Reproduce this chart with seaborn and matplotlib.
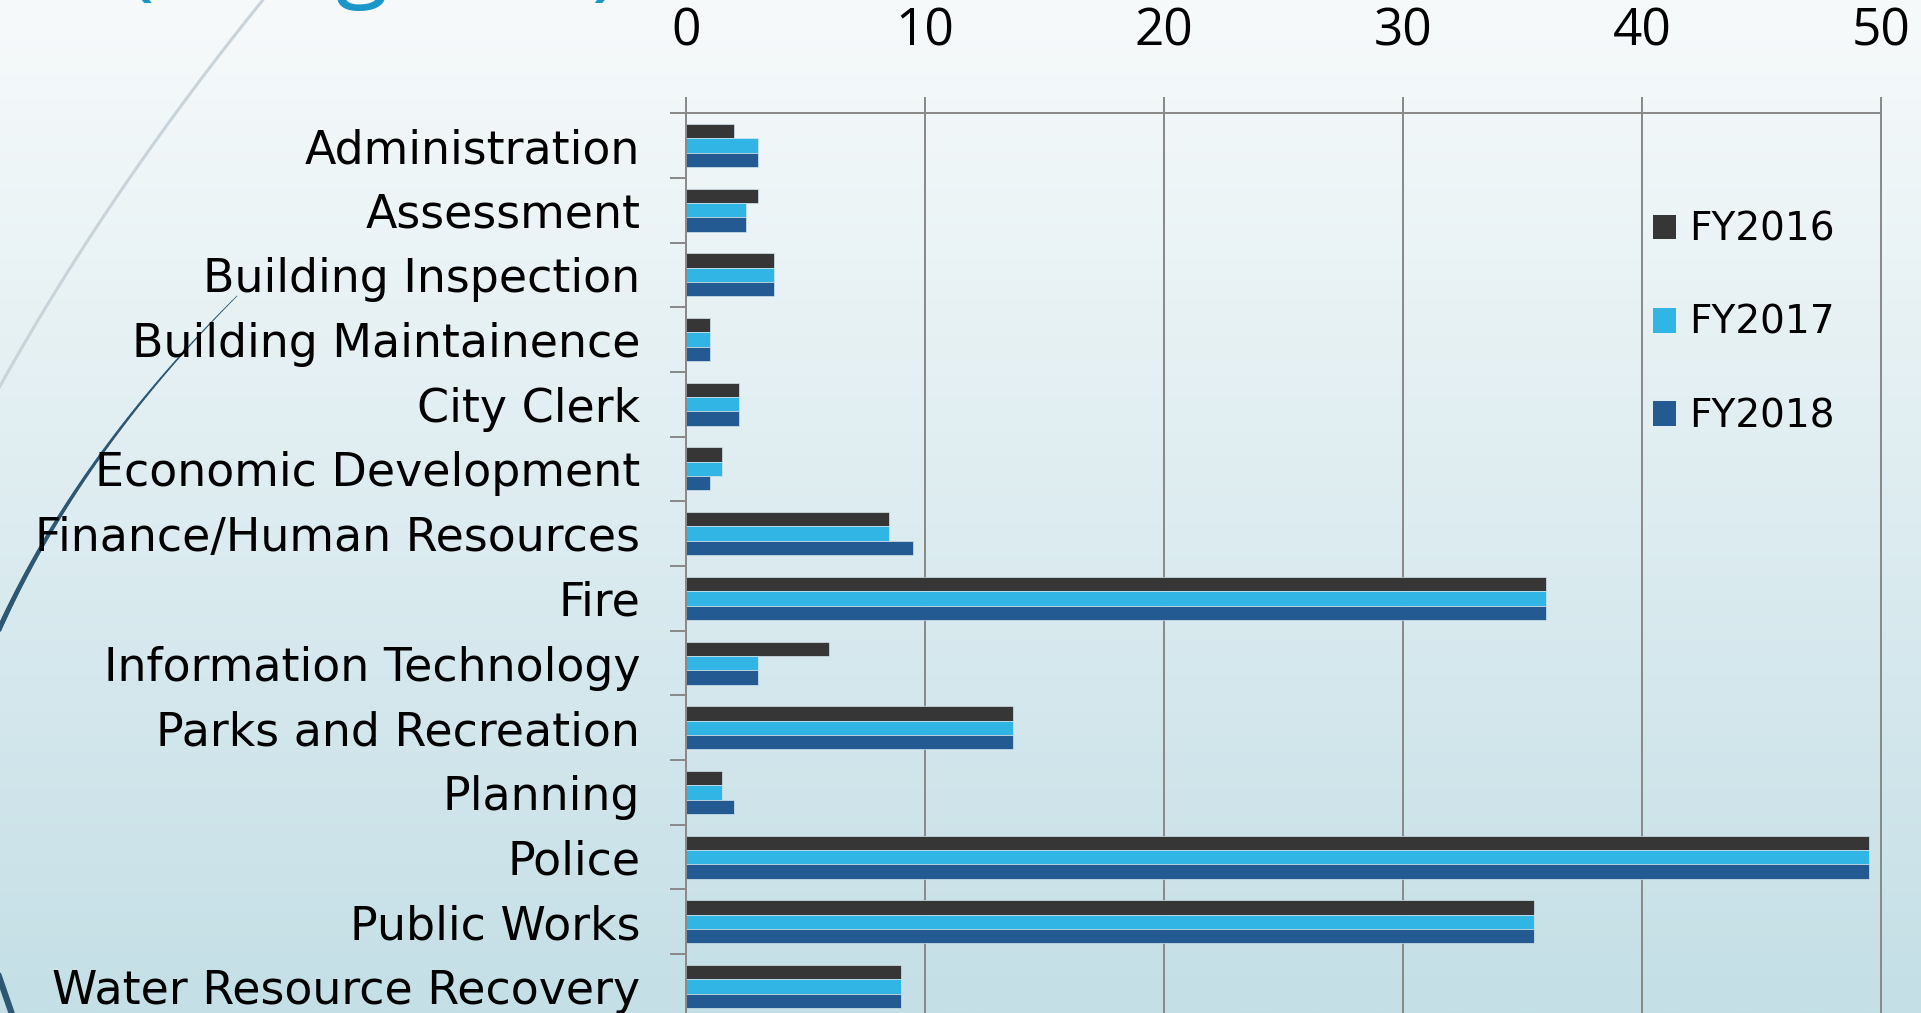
import numpy as np
import pandas as pd
import matplotlib
matplotlib.use("Agg")
import matplotlib.pyplot as plt
from matplotlib.ticker import FixedLocator
from matplotlib.collections import LineCollection
from matplotlib.patches import Patch
import seaborn as sns

# ---------------- data ----------------
departments = [
    "Administration", "Assessment", "Building Inspection", "Building Maintainence",
    "City Clerk", "Economic Development", "Finance/Human Resources", "Fire",
    "Information Technology", "Parks and Recreation", "Planning", "Police",
    "Public Works", "Water Resource Recovery",
]
fy2016 = [2, 3, 3.7, 1, 2.2, 1.5, 8.5, 36, 6, 13.7, 1.5, 49.5, 35.5, 9]
fy2017 = [3, 2.5, 3.7, 1, 2.2, 1.5, 8.5, 36, 3, 13.7, 1.5, 49.5, 35.5, 9]
fy2018 = [3, 2.5, 3.7, 1, 2.2, 1, 9.5, 36, 3, 13.7, 2, 49.5, 35.5, 9]
years = ["FY2016", "FY2017", "FY2018"]
x_ticks = [0, 10, 20, 30, 40, 50]
title_text = "(Budgeted)"

colors = ["#363636", "#31B5E5", "#245A92"]
grid_col = "#8a8a8a"

df = pd.DataFrame({
    "Department": departments * 3,
    "Year": [years[0]] * len(departments) + [years[1]] * len(departments) + [years[2]] * len(departments),
    "FTE": fy2016 + fy2017 + fy2018,
})

W, H = 1921, 1013
fig = plt.figure(figsize=(W / 100, H / 100), dpi=100)

# ---------------- background ----------------
bg = fig.add_axes([0, 0, 1, 1], zorder=-10)
top = np.array([247, 250, 251]) / 255.0
bot = np.array([196, 223, 230]) / 255.0
t = np.linspace(0, 1, 512)[:, None]
grad = (top[None, :] * (1 - t) + bot[None, :] * t)[:, None, :]
bg.imshow(grad, aspect="auto", extent=[0, W, H, 0], interpolation="bilinear")
bg.set_xlim(0, W)
bg.set_ylim(H, 0)
bg.axis("off")


def bezier(p0, p1, p2, n=200):
    s = np.linspace(0, 1, n)[:, None]
    p0, p1, p2 = map(np.array, (p0, p1, p2))
    return (1 - s) ** 2 * p0 + 2 * (1 - s) * s * p1 + s ** 2 * p2

# light arc
pts = bezier((275, -15), (104, 194), (-12, 408))
bg.plot(pts[:, 0], pts[:, 1], color="#c8d3da", lw=2.2, solid_capstyle="butt")
# dark tapered arc
pts = bezier((237, 296), (69.5, 463), (-10, 650))
segs = np.stack([pts[:-1], pts[1:]], axis=1)
lws = np.linspace(0.5, 3.8, len(segs))
bg.add_collection(LineCollection(segs, linewidths=lws, colors="#2d5773", capstyle="round"))
# bottom-left dark piece
bg.plot([-4, 14], [968, 1020], color="#2d5773", lw=4.5)

# title (mostly cut off at top)
fig.text(125 / W, 1 + 12 / H, title_text, color="#1b96c8", fontsize=70,
         ha="left", va="baseline", family="Open Sans")

# ---------------- chart ----------------
ax = fig.add_axes([686 / W, 1 - 1018.7 / H, (1881 - 686) / W, (1018.7 - 113.3) / H])
ax.set_facecolor("none")
sns.barplot(data=df, y="Department", x="FTE", hue="Year", orient="h",
            palette=colors, saturation=1, width=0.665, errorbar=None,
            edgecolor="#d5e5eb", linewidth=0.5, ax=ax)
if ax.get_legend() is not None:
    ax.get_legend().remove()

ax.set_xlim(0, 50)
ax.set_ylim(len(departments) - 0.5, -0.5)
ax.xaxis.tick_top()
ax.set_xlabel("")
ax.set_ylabel("")
ax.set_xticks(x_ticks)
ax.set_xticklabels([str(v) for v in x_ticks])
ax.tick_params(axis="x", which="major", length=11.5, width=1.44, color=grid_col,
               pad=29, labelsize=37, top=True, bottom=False)
for lbl in ax.get_xticklabels():
    lbl.set_fontfamily("Open Sans")

ax.set_yticks(range(len(departments)))
ax.set_yticklabels(departments)
ax.yaxis.set_minor_locator(FixedLocator(np.arange(-0.5, len(departments), 1.0)))
ax.tick_params(axis="y", which="major", length=0, pad=33, labelsize=33)
ax.tick_params(axis="y", which="minor", length=11.5, width=1.44, color=grid_col)
for lbl in ax.get_yticklabels():
    lbl.set_fontfamily("DejaVu Sans")

ax.grid(axis="x", color=grid_col, linewidth=1.44)
ax.grid(axis="y", visible=False)
ax.set_axisbelow(True)
for side in ["left", "top", "right"]:
    ax.spines[side].set_color(grid_col)
    ax.spines[side].set_linewidth(1.44)
ax.spines["bottom"].set_visible(False)

handles = [Patch(facecolor=c, edgecolor="none") for c in colors]
fig.legend(handles, years, loc="center left", bbox_to_anchor=(1653 / W, 1 - 323 / H),
           frameon=False, handlelength=0.59, handleheight=0.59,
           handletextpad=0.35, labelspacing=1.42, borderpad=0, borderaxespad=0,
           prop={"family": "DejaVu Sans", "size": 28})

fig.savefig("out.png", dpi=100)
